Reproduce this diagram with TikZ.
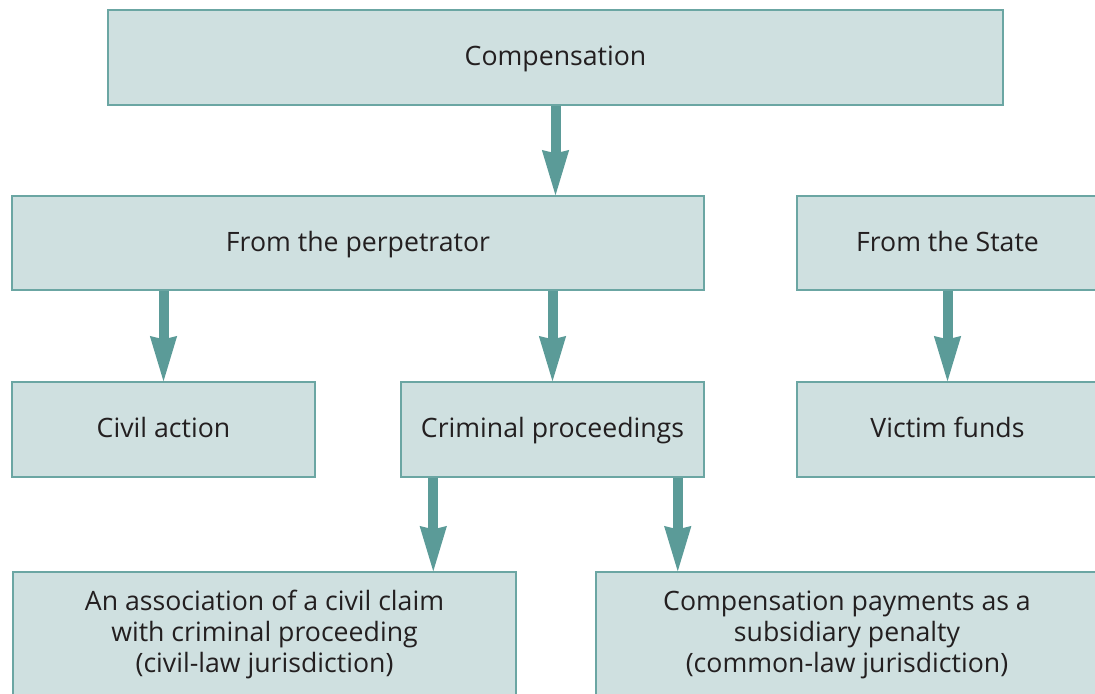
\documentclass[tikz,border=0pt]{standalone}
\usepackage{fontspec}
\setmainfont{Open Sans}
\usetikzlibrary{arrows.meta}

\definecolor{boxfill}{HTML}{CFE0E0}
\definecolor{boxline}{HTML}{6BA6A3}
\definecolor{arrowcol}{HTML}{5B9B98}
\definecolor{textcol}{HTML}{231F20}

\tikzset{every picture/.style={line width=0.75pt}}
\tikzset{
  box/.style={draw=boxline, fill=boxfill, line width=1.1pt, inner sep=0pt, align=center,
    text=textcol, font=\fontsize{20}{23.25}\selectfont},
  oneline/.style={text height=15pt, text depth=2.7pt},
  arr/.style={draw=arrowcol, line width=7.5pt,
    -{Stealth[length=34pt,width=20.5pt,inset=2.5pt,line width=0pt]}}
}

\begin{document}
\begin{tikzpicture}[x=0.75pt,y=0.75pt,yscale=-1,xscale=1]
%set diagram size to the reference
\useasboundingbox (0,0) rectangle (1095,693);

%Boxes
\node[box, oneline, minimum width=671.25pt, minimum height=71.25pt] (comp) at (555.5,57.5) {Compensation};
\node[box, oneline, minimum width=519pt, minimum height=70.5pt] (perp) at (358,243) {From the perpetrator};
\node[box, oneline, minimum width=225.75pt, minimum height=70.5pt] (state) at (947.5,243) {From the State};
\node[box, oneline, minimum width=227.25pt, minimum height=71.25pt] (civil) at (163.5,429.5) {Civil action};
\node[box, oneline, minimum width=227.25pt, minimum height=71.25pt] (crim) at (552.5,429.5) {Criminal proceedings};
\node[box, oneline, minimum width=225.75pt, minimum height=71.25pt] (victim) at (947.5,429.5) {Victim funds};
\node[box, minimum width=377.25pt, minimum height=93.75pt] (assoc) at (264.5,634.5) {An association of a civil claim\\with criminal proceeding\\(civil-law jurisdiction)};
\node[box, minimum width=376.5pt, minimum height=93.75pt] (subsid) at (847,634.5) {Compensation payments as a\\subsidiary penalty\\(common-law jurisdiction)};

%Arrows
\draw[arr] (comp.south) -- (comp.south |- perp.north);
\draw[arr] (civil.north |- perp.south) -- (civil.north);
\draw[arr] (crim.north |- perp.south) -- (crim.north);
\draw[arr] (state.south) -- (victim.north);
\coordinate (c1) at ([xshift=24.75pt]crim.south west);
\coordinate (c2) at ([xshift=-20.25pt]crim.south east);
\draw[arr] (c1) -- (c1 |- assoc.north);
\draw[arr] (c2) -- (c2 |- subsid.north);

\end{tikzpicture}
\end{document}
